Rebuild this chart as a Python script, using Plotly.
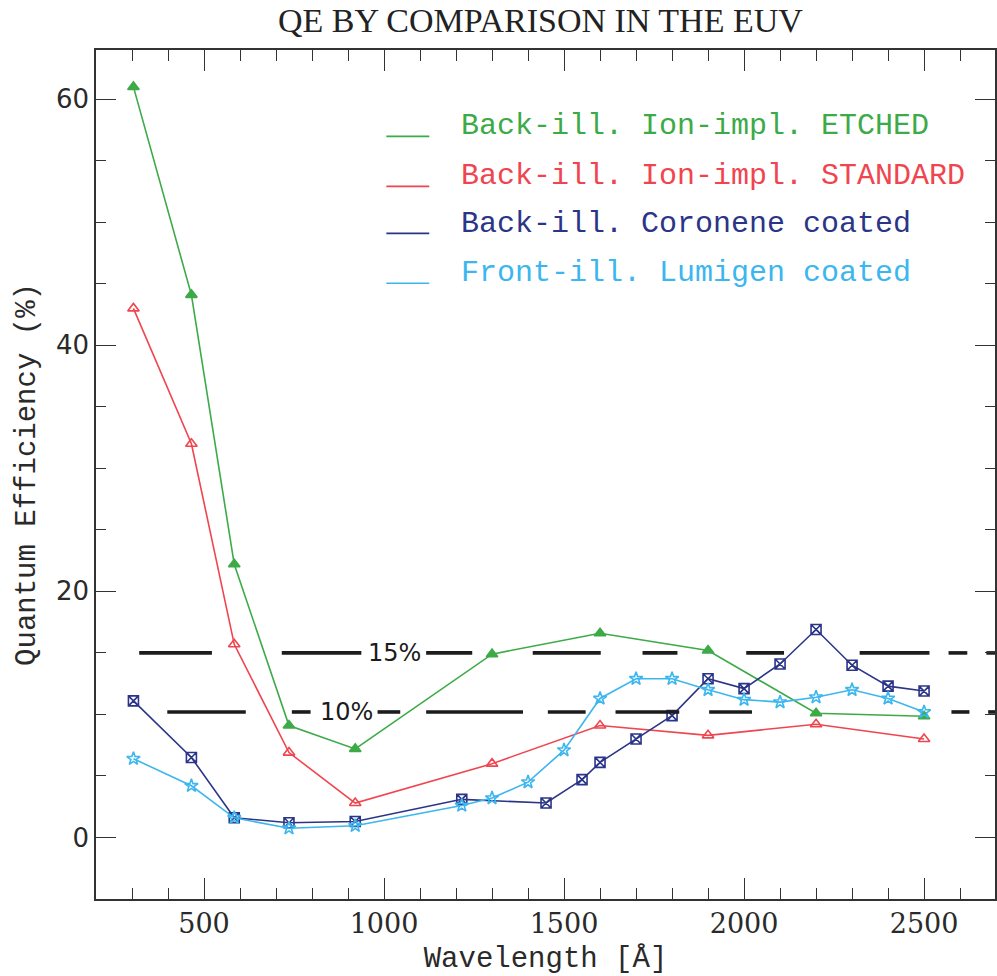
import plotly.graph_objects as go

# Wavelengths (Angstrom) and quantum efficiencies (%)
wl_ion = [304, 465, 584, 736, 920, 1300, 1600, 1900, 2200, 2500]
qe_etched = [61.0, 44.1, 22.2, 9.1, 7.2, 14.9, 16.6, 15.2, 10.1, 9.85]
qe_standard = [43.0, 32.0, 15.7, 6.9, 2.8, 6.0, 9.1, 8.3, 9.2, 8.0]

wl_coronene = [304, 465, 584, 736, 920, 1216, 1450, 1550, 1600, 1700, 1800,
               1900, 2000, 2100, 2200, 2300, 2400, 2500]
qe_coronene = [11.1, 6.5, 1.6, 1.2, 1.3, 3.1, 2.8, 4.7, 6.1, 8.0, 9.9,
               12.9, 12.1, 14.1, 16.9, 14.0, 12.3, 11.9]

wl_lumigen = [304, 465, 584, 736, 920, 1216, 1300, 1400, 1500, 1600, 1700,
              1800, 1900, 2000, 2100, 2200, 2300, 2400, 2500]
qe_lumigen = [6.4, 4.2, 1.6, 0.75, 0.95, 2.6, 3.2, 4.5, 7.1, 11.3, 12.9,
              12.9, 12.0, 11.2, 11.0, 11.4, 12.0, 11.3, 10.2]

series_names = [
    "Back-ill. Ion-impl. ETCHED",
    "Back-ill. Ion-impl. STANDARD",
    "Back-ill. Coronene coated",
    "Front-ill. Lumigen coated",
]
series_colors = ["#3daa48", "#f0454f", "#2b3588", "#3cb6ee"]
series_symbols = ["triangle-up", "triangle-up-open", "square-x-open", "star-open"]
series_x = [wl_ion, wl_ion, wl_coronene, wl_lumigen]
series_y = [qe_etched, qe_standard, qe_coronene, qe_lumigen]

# Hand-drawn reference levels: level, dash segments (Angstrom), label, label position
ref_levels = [15.0, 10.2]
ref_segments = [
    [(320, 522), (716, 937), (1117, 1245), (1413, 1602), (1718, 1815),
     (2006, 2111), (2321, 2515), (2568, 2620), (2673, 2697)],
    [(398, 616), (744, 796), (982, 1045), (1117, 1386), (1455, 1560),
     (1643, 1820), (1903, 2022), (2576, 2626), (2678, 2697)],
]
ref_labels = ["15%", "10%"]
ref_label_x = [1029, 896]

X_RANGE = [200, 2697]
Y_RANGE = [-5, 64]

fig = go.Figure()

for name, color, sym, xs, ys in zip(series_names, series_colors, series_symbols,
                                    series_x, series_y):
    fig.add_trace(go.Scatter(
        x=xs, y=ys, mode="lines+markers", name=name, showlegend=False,
        line=dict(color=color, width=1.6),
        marker=dict(symbol=sym, size=10, color=color,
                    line=dict(color=color, width=1.6)),
    ))

for level, segs, lab, lx in zip(ref_levels, ref_segments, ref_labels, ref_label_x):
    xs, ys = [], []
    for a, b in segs:
        xs += [a, b, None]
        ys += [level, level, None]
    fig.add_trace(go.Scatter(
        x=xs, y=ys, mode="lines", showlegend=False, hoverinfo="skip",
        line=dict(color="#1c1c1c", width=3.6),
    ))
    fig.add_annotation(
        x=lx, y=level, text=lab, showarrow=False,
        font=dict(family="DejaVu Sans", size=24, color="#1c1c1c"),
        xanchor="center", yanchor="middle",
    )

# Legend block: short coloured line followed by coloured label
W, H = 997, 976
ML, MR, MT, MB = 96, 0, 49.5, 76.7
pw, ph = W - ML - MR, H - MT - MB


def px_to_paper(px, py):
    return (px - ML) / pw, 1 - (py - MT) / ph


legend_text_y = [126, 176, 224, 273]
legend_line_y = [136, 186, 233, 283]
for name, color, ty, ly in zip(series_names, series_colors, legend_text_y, legend_line_y):
    x0, y0 = px_to_paper(387, ly)
    x1, _ = px_to_paper(430, ly)
    fig.add_shape(type="line", xref="paper", yref="paper",
                  x0=x0, x1=x1, y0=y0, y1=y0,
                  line=dict(color=color, width=1.6))
    tx, typ = px_to_paper(460, ty)
    fig.add_annotation(
        xref="paper", yref="paper", x=tx, y=typ, text=name, showarrow=False,
        xanchor="left", yanchor="middle",
        font=dict(family="Liberation Mono", size=30, color=color),
    )

axis_common = dict(
    showline=True, linecolor="#333333", linewidth=1.6, mirror="ticks",
    ticks="inside", tickcolor="#333333", tickwidth=1.3,
    showgrid=False, zeroline=False,
)

fig.update_xaxes(
    range=X_RANGE, tickvals=[500, 1000, 1500, 2000, 2500], ticklen=21,
    minor=dict(dtick=100, tick0=0, ticks="inside", ticklen=11,
               tickcolor="#333333", tickwidth=1.3),
    tickfont=dict(family="DejaVu Serif", size=27, color="#2a2a2a"),
    title=dict(text="Wavelength [Å]", standoff=8,
               font=dict(family="Liberation Mono", size=29, color="#2a2a2a")),
    **axis_common,
)
fig.update_yaxes(
    range=Y_RANGE, tickvals=[0, 20, 40, 60], ticklen=20,
    minor=dict(dtick=5, tick0=0, ticks="inside", ticklen=10,
               tickcolor="#333333", tickwidth=1.3),
    tickfont=dict(family="DejaVu Sans", size=26, color="#2a2a2a"),
    title=dict(text="Quantum Efficiency (%)", standoff=12,
               font=dict(family="Liberation Mono", size=29, color="#2a2a2a")),
    **axis_common,
)

fig.update_layout(
    width=W, height=H,
    margin=dict(l=ML, r=MR, t=MT, b=MB),
    paper_bgcolor="white", plot_bgcolor="white",
    title=dict(text="QE BY COMPARISON IN THE EUV", x=0.542, xanchor="center",
               y=1 - 20 / H, yanchor="middle",
               font=dict(family="Liberation Serif", size=34, color="#222222")),
    showlegend=False,
)

fig.write_html("out.html")
